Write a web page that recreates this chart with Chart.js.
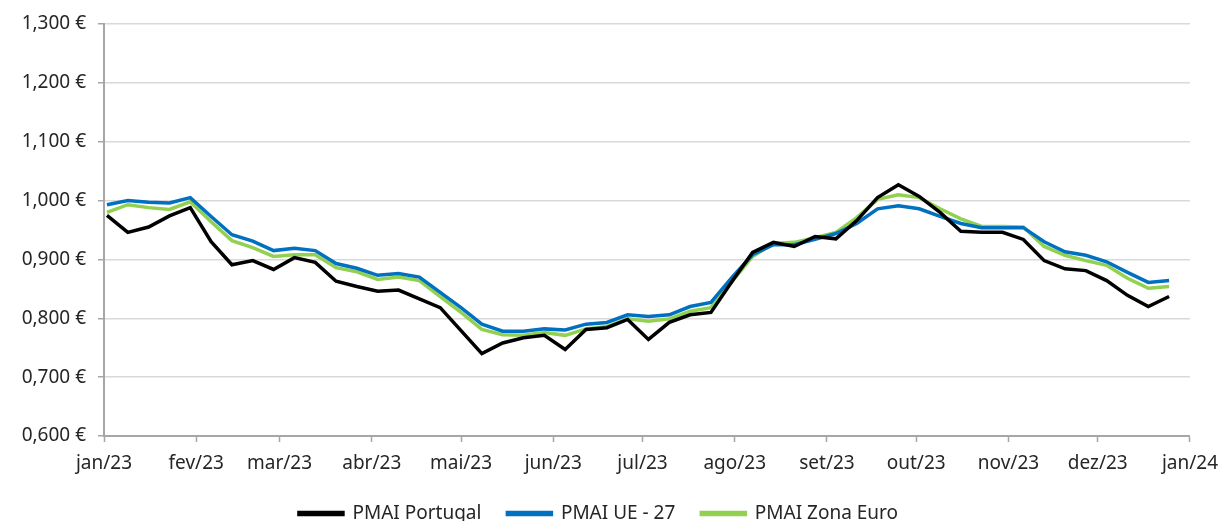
<!DOCTYPE html>
<html lang="pt">
<head>
<meta charset="utf-8">
<title>PMAI 2023</title>
<script src="https://cdn.jsdelivr.net/npm/chart.js@4.4.1/dist/chart.umd.min.js"></script>
<style>
  html, body { margin: 0; padding: 0; background: #fff; overflow: hidden; }
  #wrap { width: 1228px; height: 521px; position: relative; }
</style>
</head>
<body>
<div id="wrap"><canvas id="pmaiChart"></canvas></div>
<script>
// Semanas (segunda-feira) de 2023
const weeks = [
  '2023-01-02', '2023-01-09', '2023-01-16', '2023-01-23', '2023-01-30', '2023-02-06',
  '2023-02-13', '2023-02-20', '2023-02-27', '2023-03-06', '2023-03-13', '2023-03-20',
  '2023-03-27', '2023-04-03', '2023-04-10', '2023-04-17', '2023-04-24', '2023-05-01',
  '2023-05-08', '2023-05-15', '2023-05-22', '2023-05-29', '2023-06-05', '2023-06-12',
  '2023-06-19', '2023-06-26', '2023-07-03', '2023-07-10', '2023-07-17', '2023-07-24',
  '2023-07-31', '2023-08-07', '2023-08-14', '2023-08-21', '2023-08-28', '2023-09-04',
  '2023-09-11', '2023-09-18', '2023-09-25', '2023-10-02', '2023-10-09', '2023-10-16',
  '2023-10-23', '2023-10-30', '2023-11-06', '2023-11-13', '2023-11-20', '2023-11-27',
  '2023-12-04', '2023-12-11', '2023-12-18', '2023-12-25'
];

const portugal = [
  0.975, 0.946, 0.955, 0.974, 0.988, 0.930, 0.891, 0.898, 0.883, 0.903,
  0.895, 0.863, 0.854, 0.846, 0.848, 0.833, 0.818, 0.779, 0.740, 0.758,
  0.767, 0.771, 0.747, 0.781, 0.784, 0.798, 0.764, 0.793, 0.806, 0.810,
  0.862, 0.912, 0.929, 0.922, 0.939, 0.935, 0.966, 1.005, 1.027, 1.007,
  0.980, 0.948, 0.946, 0.946, 0.934, 0.898, 0.884, 0.881, 0.864, 0.839,
  0.820, 0.837
];

const ue27 = [
  0.993, 1.000, 0.997, 0.996, 1.005, 0.973, 0.942, 0.931, 0.915, 0.919,
  0.915, 0.893, 0.885, 0.873, 0.876, 0.870, 0.844, 0.818, 0.790, 0.778,
  0.778, 0.782, 0.780, 0.790, 0.793, 0.806, 0.803, 0.806, 0.820, 0.827,
  0.869, 0.908, 0.925, 0.925, 0.934, 0.944, 0.961, 0.986, 0.991, 0.986,
  0.973, 0.961, 0.954, 0.954, 0.954, 0.930, 0.913, 0.907, 0.896, 0.878,
  0.861, 0.864
];

const zonaEuro = [
  0.980, 0.993, 0.988, 0.985, 0.998, 0.964, 0.932, 0.920, 0.905, 0.908,
  0.908, 0.886, 0.879, 0.866, 0.870, 0.864, 0.837, 0.810, 0.781, 0.772,
  0.771, 0.776, 0.771, 0.782, 0.786, 0.799, 0.795, 0.799, 0.812, 0.818,
  0.862, 0.905, 0.927, 0.929, 0.937, 0.946, 0.971, 1.002, 1.010, 1.005,
  0.986, 0.969, 0.956, 0.956, 0.955, 0.922, 0.907, 0.898, 0.890, 0.868,
  0.851, 0.854
];

// Marcas do eixo: inicio de cada mes
const monthStarts = [
  '2023-01-01', '2023-02-01', '2023-03-01', '2023-04-01', '2023-05-01', '2023-06-01', '2023-07-01',
  '2023-08-01', '2023-09-01', '2023-10-01', '2023-11-01', '2023-12-01', '2024-01-01'
];
const monthLabels = [
  'jan/23', 'fev/23', 'mar/23', 'abr/23', 'mai/23', 'jun/23', 'jul/23',
  'ago/23', 'set/23', 'out/23', 'nov/23', 'dez/23', 'jan/24'
];

// dias desde 1 de janeiro de 2023
const dayOf = s => Math.round((Date.parse(s) - Date.parse('2023-01-01')) / 86400000);
const tickDays = monthStarts.map(dayOf);
const points = arr => arr.map((v, i) => ({ x: dayOf(weeks[i]), y: v }));

const fontFamily = '"Noto Sans", sans-serif';
const textColor = '#262626';

function series(label, values, color) {
  return {
    label: label,
    data: points(values),
    borderColor: color,
    backgroundColor: color,
    borderWidth: 3.5,
    pointRadius: 0,
    tension: 0
  };
}

new Chart(document.getElementById('pmaiChart').getContext('2d'), {
  type: 'line',
  data: {
    datasets: [
      series('PMAI Portugal', portugal, '#000000'),
      series('PMAI UE - 27', ue27, '#0070C0'),
      series('PMAI Zona Euro', zonaEuro, '#92D050')
    ]
  },
  options: {
    responsive: true,
    maintainAspectRatio: false,
    animation: false,
    layout: { padding: { left: 0, right: 31, top: 24, bottom: 0 } },
    scales: {
      x: {
        type: 'linear',
        min: 0,
        max: 365,
        afterBuildTicks: axis => {
          axis.ticks = tickDays.map(v => ({ value: v }));
        },
        afterFit: axis => { axis.height = 42; },
        ticks: {
          autoSkip: false,
          maxRotation: 0,
          padding: 10,
          color: textColor,
          font: { family: fontFamily, size: 19 },
          callback: value => monthLabels[tickDays.indexOf(value)]
        },
        grid: {
          drawOnChartArea: false,
          drawTicks: true,
          tickLength: 6,
          tickColor: '#a6a6a6',
          tickWidth: 1.5
        },
        border: { color: '#a6a6a6', width: 2 }
      },
      y: {
        min: 0.6,
        max: 1.3,
        afterFit: axis => { axis.width = 104; },
        ticks: {
          stepSize: 0.1,
          padding: 12,
          color: textColor,
          font: { family: fontFamily, size: 19 },
          callback: value => value.toFixed(3).replace('.', ',') + ' €'
        },
        grid: {
          color: '#d9d9d9',
          lineWidth: 1.5,
          tickLength: 6,
          tickColor: '#a6a6a6'
        },
        border: { color: '#a6a6a6', width: 2 }
      }
    },
    plugins: {
      legend: {
        position: 'bottom',
        maxHeight: 43,
        labels: {
          boxWidth: 44,
          boxHeight: 2,
          padding: 26,
          color: textColor,
          font: { family: fontFamily, size: 19 }
        }
      },
      tooltip: { enabled: false }
    }
  }
});
</script>
</body>
</html>
